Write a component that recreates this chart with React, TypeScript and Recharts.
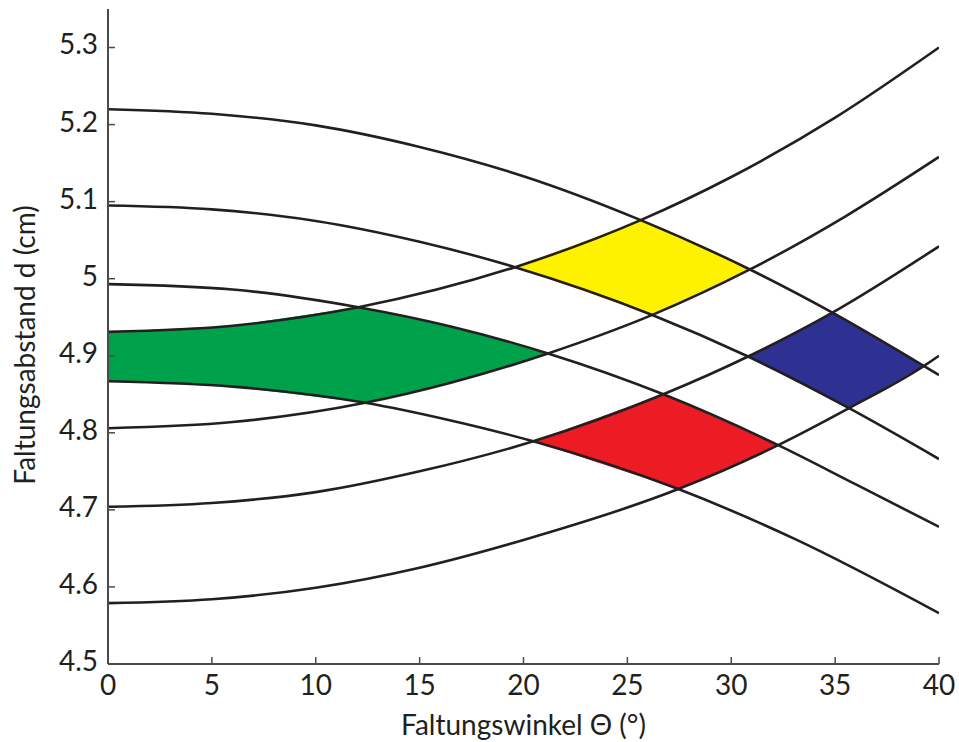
import React from "react";
import { ComposedChart, Line, Area, XAxis, YAxis } from "recharts";

type Pt = { x: number; d: number };

// Faltungswinkel Θ (°) against Faltungsabstand d (cm)
const xTicks = [0, 5, 10, 15, 20, 25, 30, 35, 40];
const yTicks = [4.5, 4.6, 4.7, 4.8, 4.9, 5.0, 5.1, 5.2, 5.3];

const pts = (rows: number[][]): Pt[] => rows.map(([x, d]) => ({ x, d }));

// falling curves
const fall1 = pts([[0, 5.22], [5, 5.214], [10, 5.199], [15, 5.171], [20, 5.133], [25.64, 5.076], [30.9, 5.012], [34.87, 4.956], [39.26, 4.887], [40, 4.875]]);
const fall2 = pts([[0, 5.095], [5, 5.09], [10, 5.075], [15, 5.048], [19.59, 5.015], [26.2, 4.953], [30.81, 4.899], [35.67, 4.832], [40, 4.766]]);
const fall3 = pts([[0, 4.993], [6, 4.986], [12.05, 4.963], [16.5, 4.938], [21.18, 4.903], [26.73, 4.85], [32.26, 4.784], [36, 4.733], [40, 4.678]]);
const fall4 = pts([[0, 4.867], [6, 4.86], [12.38, 4.839], [16.5, 4.816], [20.47, 4.789], [27.45, 4.727], [33, 4.663], [40, 4.566]]);

// rising curves
const rise1 = pts([[0, 4.931], [6, 4.939], [12.05, 4.963], [19.59, 5.015], [25.64, 5.076], [30, 5.132], [35, 5.209], [40, 5.3]]);
const rise2 = pts([[0, 4.806], [6, 4.814], [12.38, 4.839], [16.5, 4.865], [21.18, 4.903], [26.2, 4.953], [30.9, 5.012], [35.5, 5.081], [40, 5.158]]);
const rise3 = pts([[0, 4.704], [5, 4.709], [10, 4.723], [15, 4.75], [20.47, 4.789], [26.73, 4.85], [30.81, 4.899], [34.87, 4.956], [40, 5.042]]);
const rise4 = pts([[0, 4.579], [5, 4.584], [10, 4.599], [15, 4.625], [20, 4.661], [27.45, 4.727], [32.26, 4.784], [35.67, 4.832], [39.26, 4.8865], [40, 4.9]]);

const curves = [fall1, fall2, fall3, fall4, rise1, rise2, rise3, rise4];

const between = (c: Pt[], a: number, b: number) =>
  c.filter((p) => p.x >= a - 1e-6 && p.x <= b + 1e-6);

// outline of a cell: up the first upper curve, down the second, back along the lower ones
function region(up1: Pt[], up2: Pt[], lo2: Pt[], lo1: Pt[], l: number, t: number, r: number, b: number) {
  return [
    ...between(up1, l, t),
    ...between(up2, t, r).slice(1),
    ...between(lo2, b, r).reverse().slice(1),
    ...between(lo1, l, b).reverse().slice(1),
  ];
}

const cells = [
  { fill: "#00A14B", pts: region(rise1, fall3, rise2, fall4, 0, 12.05, 21.18, 12.38) },
  { fill: "#FFF200", pts: region(rise1, fall1, rise2, fall2, 19.59, 25.64, 30.9, 26.2) },
  { fill: "#ED1C24", pts: region(rise3, fall3, rise4, fall4, 20.47, 26.73, 32.26, 27.45) },
  { fill: "#2E3192", pts: region(rise3, fall1, rise4, fall2, 30.81, 34.87, 39.26, 35.67) },
];

const ink = "#231F20";
const frame = "#4a4a4a";
const font = "Lato, 'Open Sans', sans-serif";

const XTitle = () => (
  <text x={523.5} y={735} textAnchor="middle" fontSize={28} fontFamily={font} fill={ink}>
    Faltungswinkel Θ (°)
  </text>
);

const YTitle = () => (
  <text x={35} y={345} transform="rotate(-90 35 345)" textAnchor="middle" fontSize={28} fontFamily={font} fill={ink}>
    Faltungsabstand d (cm)
  </text>
);

export default function App() {
  const tickFont = { fontSize: 28, fill: ink, fontFamily: font };
  return (
    <div style={{ position: "absolute", left: 0, top: 0, background: "#fff" }}>
      <ComposedChart width={959} height={742} margin={{ top: 9, right: 20, bottom: 0, left: 0 }}>
        <XAxis
          type="number"
          dataKey="x"
          domain={[0, 40]}
          ticks={xTicks}
          interval={0}
          allowDataOverflow
          height={78}
          tickSize={-7}
          tickMargin={18}
          axisLine={{ stroke: frame, strokeWidth: 2 }}
          tickLine={{ stroke: frame, strokeWidth: 1.5 }}
          tick={tickFont}
          label={XTitle}
        />
        <XAxis
          xAxisId="top"
          orientation="top"
          type="number"
          domain={[0, 40]}
          ticks={xTicks}
          interval={0}
          allowDataOverflow
          height={0}
          tickSize={-7}
          tick={false}
          axisLine={{ stroke: frame, strokeWidth: 2 }}
          tickLine={{ stroke: frame, strokeWidth: 1.5 }}
        />
        <YAxis
          type="number"
          domain={[4.5, 5.35]}
          ticks={yTicks}
          interval={0}
          allowDataOverflow
          width={108}
          tickSize={-7}
          tickMargin={17}
          axisLine={{ stroke: frame, strokeWidth: 2 }}
          tickLine={{ stroke: frame, strokeWidth: 1.5 }}
          tick={{ ...tickFont, dy: -3 }}
          tickFormatter={(v: number) => String(Math.round(v * 10) / 10)}
          label={YTitle}
        />
        <YAxis
          yAxisId="right"
          orientation="right"
          type="number"
          domain={[4.5, 5.35]}
          ticks={yTicks}
          interval={0}
          allowDataOverflow
          width={0}
          tickSize={-7}
          tick={false}
          axisLine={{ stroke: frame, strokeWidth: 2 }}
          tickLine={{ stroke: frame, strokeWidth: 1.5 }}
        />
        {cells.map((c, i) => (
          <Area
            key={"cell" + i}
            data={c.pts}
            dataKey="d"
            type="linear"
            baseValue={4.5}
            fill={c.fill}
            fillOpacity={1}
            stroke="none"
            dot={false}
            activeDot={false}
            isAnimationActive={false}
          />
        ))}
        {curves.map((c, i) => (
          <Line
            key={"curve" + i}
            data={c}
            dataKey="d"
            type="monotone"
            stroke={ink}
            strokeWidth={2.6}
            dot={false}
            activeDot={false}
            isAnimationActive={false}
          />
        ))}
      </ComposedChart>
    </div>
  );
}
